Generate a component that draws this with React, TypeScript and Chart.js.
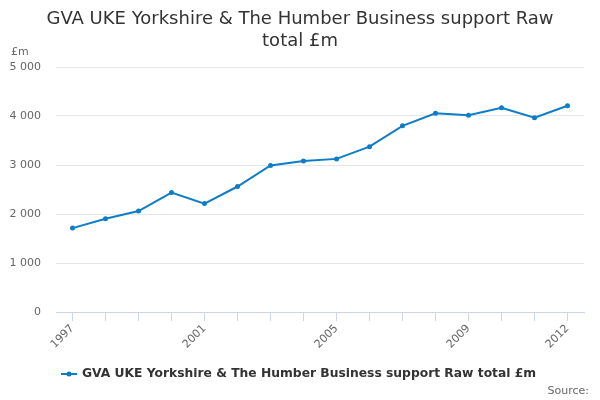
import React, { useEffect, useRef } from "react";
import { Chart, registerables } from "chart.js";

Chart.register(...registerables);

const years = ["1997", "1998", "1999", "2000", "2001", "2002", "2003", "2004", "2005", "2006", "2007", "2008", "2009", "2010", "2011", "2012"];
const values = [1712, 1903, 2061, 2437, 2212, 2561, 2992, 3080, 3125, 3375, 3800, 4054, 4014, 4168, 3966, 4209];
const shownYears = ["1997", "2001", "2005", "2009", "2012"];
const yMin = 0;
const yMax = 5000;
const yStep = 1000;
const titleLines = ["GVA UKE Yorkshire & The Humber Business support Raw", "total £m"];
const seriesName = "GVA UKE Yorkshire & The Humber Business support Raw total £m";
const unitLabel = "£m";
const sourceLabel = "Source:";

const FONT = "'DejaVu Sans', Verdana, sans-serif";
const LINE_COLOR = "#0d7dc8";

const fmt = (v: number) => String(v).replace(/\B(?=(\d{3})+(?!\d))/g, " ");

const textPlugin = {
  id: "extraText",
  afterDraw(chart: any) {
    const ctx = chart.ctx;
    ctx.save();
    // title
    ctx.fillStyle = "#333333";
    ctx.font = `18px ${FONT}`;
    ctx.textAlign = "center";
    ctx.textBaseline = "middle";
    ctx.fillText(titleLines[0], 300, 19);
    ctx.fillText(titleLines[1], 300, 41);
    // unit label
    ctx.fillStyle = "#666666";
    ctx.font = `11px ${FONT}`;
    ctx.textAlign = "left";
    ctx.fillText(unitLabel, 11, 52);
    // legend
    ctx.strokeStyle = LINE_COLOR;
    ctx.lineWidth = 2;
    ctx.beginPath();
    ctx.moveTo(61, 374);
    ctx.lineTo(77, 374);
    ctx.stroke();
    ctx.fillStyle = LINE_COLOR;
    ctx.beginPath();
    ctx.arc(69, 374, 2.5, 0, Math.PI * 2);
    ctx.fill();
    ctx.fillStyle = "#333333";
    ctx.font = `bold 12.3px ${FONT}`;
    ctx.fillText(seriesName, 82, 374);
    // source
    ctx.fillStyle = "#666666";
    ctx.font = `11px ${FONT}`;
    ctx.textAlign = "right";
    ctx.fillText(sourceLabel, 589, 391);
    ctx.restore();
  },
};

export default function App() {
  const ref = useRef<HTMLCanvasElement>(null);
  useEffect(() => {
    if (!ref.current) return;
    const chart = new Chart(ref.current, {
      type: "line",
      data: {
        labels: years,
        datasets: [
          {
            label: seriesName,
            data: values,
            borderColor: LINE_COLOR,
            backgroundColor: LINE_COLOR,
            borderWidth: 2,
            pointRadius: 2.5,
            pointBorderWidth: 0,
            pointBackgroundColor: LINE_COLOR,
            tension: 0,
          },
        ],
      },
      options: {
        animation: false,
        responsive: false,
        maintainAspectRatio: false,
        layout: { padding: { top: 67, right: 16, bottom: 0, left: 0 } },
        plugins: {
          legend: { display: false },
          title: { display: false },
          tooltip: { enabled: false },
        },
        scales: {
          x: {
            type: "category",
            offset: true,
            grid: {
              drawOnChartArea: false,
              drawTicks: true,
              tickLength: 9,
              color: "#ccd6eb",
              offset: false,
            },
            border: { display: true, color: "#ccd6eb", width: 1 },
            ticks: {
              autoSkip: false,
              minRotation: 45,
              maxRotation: 45,
              padding: 1,
              color: "#666666",
              font: { family: FONT, size: 11 },
              callback: (_v: any, i: number) => (shownYears.includes(years[i]) ? years[i] : ""),
            },
            afterFit: (s: any) => {
              s.height = 88;
            },
          },
          y: {
            min: yMin,
            max: yMax,
            border: { display: false },
            grid: { color: "#e6e6e6", drawTicks: false },
            ticks: {
              stepSize: yStep,
              padding: 15,
              color: "#666666",
              font: { family: FONT, size: 11 },
              callback: (v: any) => fmt(Number(v)),
            },
            afterFit: (s: any) => {
              s.width = 56;
            },
          },
        },
      },
      plugins: [textPlugin],
    });
    return () => chart.destroy();
  }, []);
  return (
    <div style={{ position: "fixed", left: 0, top: 0, width: 600, height: 400, background: "#ffffff" }}>
      <canvas ref={ref} width={600} height={400} style={{ width: 600, height: 400 }} />
    </div>
  );
}
